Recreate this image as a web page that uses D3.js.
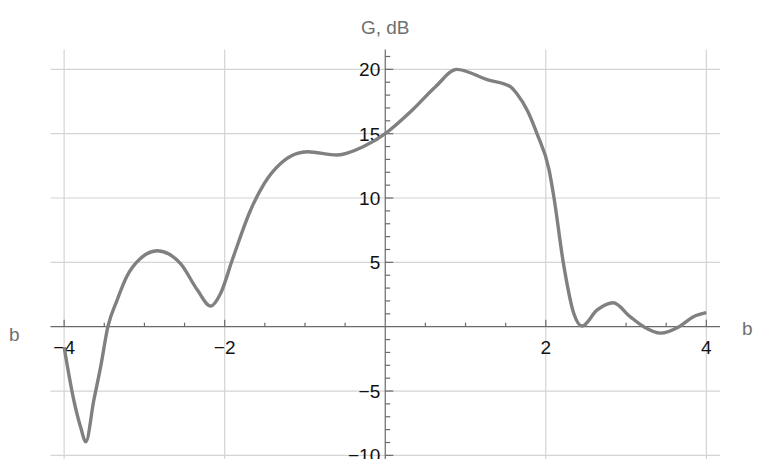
<!DOCTYPE html>
<html>
<head>
<meta charset="utf-8">
<script src="https://cdn.jsdelivr.net/npm/d3@7"></script>
<style>
  body { margin: 0; background: #fff; }
  svg { display: block; }
</style>
</head>
<body>
<svg id="plot" width="761" height="459"></svg>
<script>
// curve: b (x) and G in dB (y)
var bValues = [-4.00, -3.88, -3.795, -3.73, -3.63, -3.545, -3.455, -3.34, -3.22,
               -3.05, -2.84, -2.55, -2.34, -2.175, -2.05, -1.905, -1.677, -1.51, -1.30,
               -1.096, -0.97, -0.60, -0.27, 0.00, 0.315, 0.626, 0.888, 1.27, 1.56, 1.64, 1.77,
               1.89, 2.04, 2.10, 2.22, 2.35, 2.45, 2.64, 2.84, 3.05, 3.22,
               3.43, 3.66, 3.84, 4.00];
var gValues = [-1.6, -5.7, -7.8, -8.94, -5.7, -3.1, 0.0, 2.07, 3.9,
               5.3, 5.9, 4.9, 2.85, 1.6, 2.6, 5.2, 9.07, 11.1, 12.7,
               13.47, 13.6, 13.34, 14.0, 15.0, 16.7, 18.65, 20.0, 19.2, 18.65, 18.1, 16.8,
               15.0, 12.2, 10.1, 4.9, 1.0, 0.05, 1.3, 1.86, 0.78, 0.0,
               -0.5, 0.0, 0.78, 1.09];

var xMajor = [-4, -2, 2, 4];
var yMajor = [-10, -5, 5, 10, 15, 20];
var xLabel = "b";
var yLabel = "G, dB";

var svg = d3.select("svg#plot");

var x = d3.scaleLinear().domain([-4.17, 4.17]).range([50.5, 720]);
var y = d3.scaleLinear().domain([-12, 21.55]).range([481.1, 49.4]);

var fmt = function(v) { return v < 0 ? "\u2212" + Math.abs(v) : "" + v; };

// grid
var grid = svg.append("g").attr("class", "grid")
  .attr("stroke", "#d4d4d4").attr("stroke-width", 1.2);

grid.selectAll("line.gx").data(xMajor).enter().append("line")
  .attr("class", "gx")
  .attr("x1", function(d) { return x(d); }).attr("x2", function(d) { return x(d); })
  .attr("y1", y(21.55)).attr("y2", y(-12));

grid.selectAll("line.gy").data(yMajor).enter().append("line")
  .attr("class", "gy")
  .attr("y1", function(d) { return y(d); }).attr("y2", function(d) { return y(d); })
  .attr("x1", x(-4.17)).attr("x2", x(4.17));

// axes through the origin
var axisColor = "#6a6a6a";
var axes = svg.append("g").attr("class", "axes")
  .attr("stroke", axisColor).attr("stroke-width", 1.2);

axes.append("line")
  .attr("x1", x(-4.17)).attr("x2", x(4.17))
  .attr("y1", y(0)).attr("y2", y(0));

axes.append("line")
  .attr("x1", x(0)).attr("x2", x(0))
  .attr("y1", y(21.55)).attr("y2", y(-12));

// x ticks every 0.5, upward
var xTicks = d3.range(-8, 9).map(function(i) { return i / 2; }).filter(function(d) { return d !== 0; });
axes.selectAll("line.tx").data(xTicks).enter().append("line")
  .attr("class", "tx")
  .attr("x1", function(d) { return x(d); }).attr("x2", function(d) { return x(d); })
  .attr("y1", y(0))
  .attr("y2", function(d) { return y(0) - (d % 2 === 0 ? 7 : 4); });

// y ticks every 1, to the right
var yTicks = d3.range(-12, 22).filter(function(d) { return d !== 0; });
axes.selectAll("line.ty").data(yTicks).enter().append("line")
  .attr("class", "ty")
  .attr("y1", function(d) { return y(d); }).attr("y2", function(d) { return y(d); })
  .attr("x1", x(0))
  .attr("x2", function(d) { return x(0) + (d % 5 === 0 ? 8 : 5); });

// tick labels
var labels = svg.append("g")
  .attr("font-family", "Liberation Sans, Arial, sans-serif")
  .attr("font-size", 19)
  .attr("fill", "#111");

labels.selectAll("text.lx").data(xMajor).enter().append("text")
  .attr("class", "lx")
  .attr("x", function(d) { return x(d); })
  .attr("y", 354)
  .attr("text-anchor", "middle")
  .text(fmt);

labels.selectAll("text.ly").data(yMajor).enter().append("text")
  .attr("class", "ly")
  .attr("x", x(0) - 5)
  .attr("y", function(d) { return y(d) + 7; })
  .attr("text-anchor", "end")
  .text(fmt);

// curve
var points = bValues.map(function(b, i) { return [b, gValues[i]]; });
var line = d3.line()
  .x(function(d) { return x(d[0]); })
  .y(function(d) { return y(d[1]); })
  .curve(d3.curveMonotoneX);

svg.append("path")
  .datum(points)
  .attr("fill", "none")
  .attr("stroke", "#808080")
  .attr("stroke-width", 3.4)
  .attr("stroke-linejoin", "round")
  .attr("d", line);

// axis names
var names = svg.append("g")
  .attr("font-family", "Liberation Sans, Arial, sans-serif")
  .attr("font-size", 19)
  .attr("fill", "#707070");

names.append("text").attr("x", x(0)).attr("y", 34)
  .attr("text-anchor", "middle").text(yLabel);
names.append("text").attr("x", 9).attr("y", 341).text(xLabel);
names.append("text").attr("x", 742).attr("y", 335).text(xLabel);
</script>
</body>
</html>
